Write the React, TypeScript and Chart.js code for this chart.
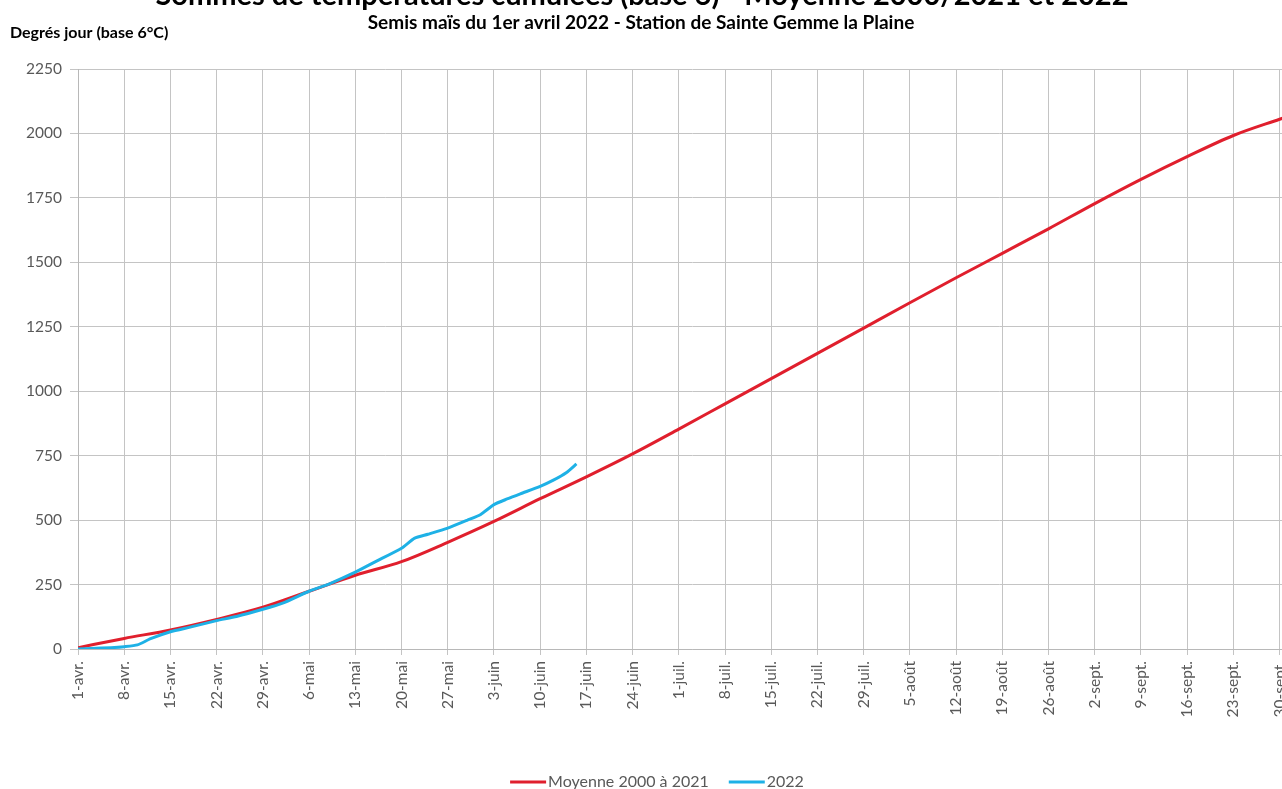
import React, { useEffect, useRef } from 'react';
import { Chart, registerables } from 'chart.js';

Chart.register(...registerables);

const titleText = 'Sommes de températures cumulées (base 6) - Moyenne 2000/2021 et 2022';
const subtitleText = 'Semis maïs du 1er avril 2022 - Station de Sainte Gemme la Plaine';
const yAxisLabel = 'Degrés jour (base 6°C)';
const seriesNames = ['Moyenne 2000 à 2021', '2022'];
const seriesColors = ['#e01f2d', '#1eb1e6'];

// weekly tick labels, day offsets from 1 April (step 7 days)
const tickLabels = [
  '1-avr.', '8-avr.', '15-avr.', '22-avr.', '29-avr.', '6-mai', '13-mai', '20-mai', '27-mai',
  '3-juin', '10-juin', '17-juin', '24-juin', '1-juil.', '8-juil.', '15-juil.', '22-juil.', '29-juil.',
  '5-août', '12-août', '19-août', '26-août', '2-sept.', '9-sept.', '16-sept.', '23-sept.', '30-sept.',
];

// Moyenne 2000 à 2021 (days since 1 April)
const moyenneDays = [0, 7, 14, 21, 28, 35, 42, 49, 56, 63, 70, 77, 84, 91, 98, 105, 112, 119, 126, 133, 140, 147, 154, 161, 168, 175, 182, 186];
const moyenneValues = [5, 41, 74, 115, 162, 224, 286, 339, 414, 495, 583, 668, 757, 853, 951, 1049, 1147, 1245, 1343, 1440, 1535, 1630, 1728, 1822, 1910, 1992, 2055, 2090];

// 2022
const days2022 = [0, 2, 5, 7, 9, 11, 14, 17, 21, 24, 28, 31, 35, 38, 42, 45, 49, 51, 53, 56, 59, 61, 63, 65, 67, 70, 72, 74, 75.5];
const values2022 = [0, 2, 5, 9, 16, 40, 67, 85, 110, 126, 154, 178, 224, 252, 298, 338, 391, 430, 445, 469, 500, 522, 560, 582, 602, 631, 655, 685, 718];

const yMin = 0;
const yMax = 2250;
const yStep = 250;
const xMaxDay = 186;

const CANVAS_W = 1316;
const CANVAS_H = 789;

const headerPlugin = {
  id: 'headerAndLegend',
  afterDraw(chart: any) {
    const ctx: CanvasRenderingContext2D = chart.ctx;
    ctx.save();
    ctx.fillStyle = '#000';
    ctx.textBaseline = 'alphabetic';
    ctx.textAlign = 'center';
    ctx.font = 'bold 29px Lato';
    ctx.fillText(titleText, 642, 5);
    ctx.font = 'bold 19px Lato';
    ctx.fillText(subtitleText, 641, 29);
    ctx.textAlign = 'left';
    ctx.font = 'bold 16px Lato';
    ctx.fillText(yAxisLabel, 10, 38);

    // legend
    ctx.font = '16px Lato';
    const lineLen = 36;
    const gapText = 2;
    const gapItems = 20;
    const w0 = ctx.measureText(seriesNames[0]).width;
    const w1 = ctx.measureText(seriesNames[1]).width;
    const total = lineLen + gapText + w0 + gapItems + lineLen + gapText + w1;
    let x = 657 - total / 2;
    const ly = 782;
    const widths = [w0, w1];
    for (let i = 0; i < 2; i++) {
      ctx.strokeStyle = seriesColors[i];
      ctx.lineWidth = 3;
      ctx.beginPath();
      ctx.moveTo(x, ly);
      ctx.lineTo(x + lineLen, ly);
      ctx.stroke();
      x += lineLen + gapText;
      ctx.fillStyle = '#595959';
      ctx.fillText(seriesNames[i], x, ly + 5);
      x += widths[i] + gapItems;
    }
    ctx.restore();
  },
};

export default function App() {
  const canvasRef = useRef<HTMLCanvasElement | null>(null);

  useEffect(() => {
    if (!canvasRef.current) return;
    Chart.defaults.font.family = 'Lato';
    const chart = new Chart(canvasRef.current, {
      type: 'line',
      data: {
        datasets: [
          {
            label: seriesNames[0],
            data: moyenneDays.map((d, i) => ({ x: d, y: moyenneValues[i] })),
            borderColor: seriesColors[0],
            backgroundColor: seriesColors[0],
            borderWidth: 3,
            pointRadius: 0,
            cubicInterpolationMode: 'monotone',
            order: 2,
          },
          {
            label: seriesNames[1],
            data: days2022.map((d, i) => ({ x: d, y: values2022[i] })),
            borderColor: seriesColors[1],
            backgroundColor: seriesColors[1],
            borderWidth: 3,
            pointRadius: 0,
            tension: 0.2,
            order: 1,
          },
        ],
      },
      options: {
        animation: false,
        responsive: false,
        devicePixelRatio: 1,
        layout: { padding: { left: 0, right: 10, top: 69, bottom: 0 } },
        plugins: {
          legend: { display: false },
          title: { display: false },
          tooltip: { enabled: false },
        },
        scales: {
          x: {
            type: 'linear',
            min: 0,
            max: xMaxDay,
            afterBuildTicks: (scale: any) => {
              scale.ticks = tickLabels.map((_, i) => ({ value: i * 7 }));
            },
            afterFit: (scale: any) => {
              scale.height = CANVAS_H - 649;
            },
            ticks: {
              autoSkip: false,
              minRotation: 90,
              maxRotation: 90,
              padding: 6,
              color: '#595959',
              font: { size: 15.5 },
              callback: (value: any) => tickLabels[Math.round(Number(value) / 7)] ?? '',
            },
            grid: { color: '#c4c4c4', lineWidth: 1, tickLength: 6 },
            border: { color: '#b8b8b8' },
          },
          y: {
            min: yMin,
            max: yMax,
            afterFit: (scale: any) => {
              scale.width = 78;
            },
            ticks: {
              stepSize: yStep,
              padding: 8,
              color: '#595959',
              font: { size: 15.5 },
              callback: (value: any) => String(value),
            },
            grid: { color: '#c4c4c4', lineWidth: 1, tickLength: 8 },
            border: { color: '#b8b8b8' },
          },
        },
      },
      plugins: [headerPlugin],
    } as any);
    return () => chart.destroy();
  }, []);

  return (
    <div
      style={{
        position: 'fixed',
        left: 0,
        top: 0,
        width: 1282,
        height: 789,
        overflow: 'hidden',
        background: '#fff',
      }}
    >
      <canvas
        ref={canvasRef}
        width={CANVAS_W}
        height={CANVAS_H}
        style={{ display: 'block', width: CANVAS_W, height: CANVAS_H }}
      />
    </div>
  );
}
